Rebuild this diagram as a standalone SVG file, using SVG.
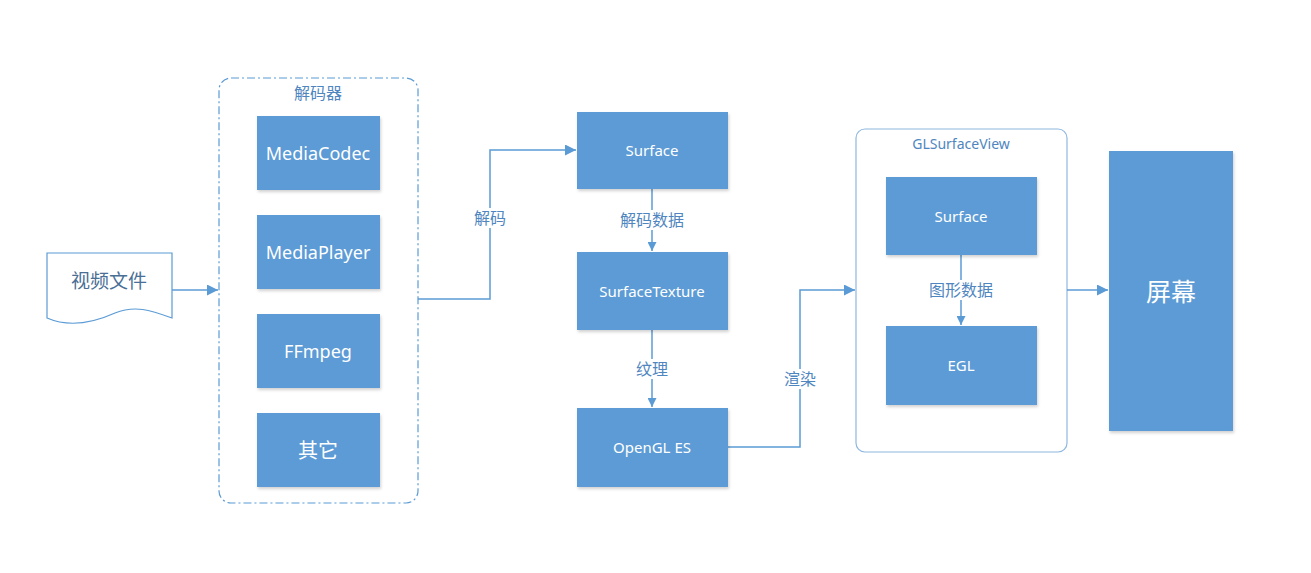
<svg xmlns="http://www.w3.org/2000/svg" width="1311" height="573" viewBox="0 0 1311 573">
<defs>
<style>
.box{fill:#5b9bd5;filter:url(#sh)}
.bt{fill:#fff;font-family:"Noto Sans","Noto Sans CJK SC",sans-serif;text-anchor:middle;dominant-baseline:central}
.lbl{fill:#4f86c0;font-family:"Noto Sans","Noto Sans CJK SC",sans-serif;font-size:16px;text-anchor:middle;dominant-baseline:central}
.ln{fill:none;stroke:#5b9bd5;stroke-width:1.5}
</style>
<filter id="sh" x="-10%" y="-10%" width="130%" height="130%">
<feDropShadow dx="1" dy="2" stdDeviation="1.5" flood-color="#000" flood-opacity="0.18"/>
</filter>
<marker id="ar" viewBox="0 0 10 10" refX="10" refY="5" markerWidth="9" markerHeight="9" markerUnits="userSpaceOnUse" orient="auto">
<path d="M0,0 L10,5 L0,10 z" fill="#5b9bd5"/>
</marker>
<marker id="ar2" viewBox="0 0 10 10" refX="10" refY="5" markerWidth="11" markerHeight="11" markerUnits="userSpaceOnUse" orient="auto">
<path d="M0,0 L10,5 L0,10 z" fill="#5b9bd5"/>
</marker>
</defs>
<rect width="1311" height="573" fill="#fff"/>

<g id="decoder">
<rect x="219" y="78" width="199" height="425" rx="12" fill="none" stroke="#5b9bd5" stroke-width="1.2" stroke-dasharray="8,3,2,3"/>
<text x="318" y="93" class="lbl">解码器</text>
</g>
<g id="glsurfaceview">
<rect x="856" y="129" width="211" height="323" rx="9" fill="#fff" stroke="#8fb8e0" stroke-width="1.2"/>
<text x="961" y="143" class="lbl" style="font-size:14px">GLSurfaceView</text>
</g>

<g id="connectors">
<path class="ln" d="M172,290 L218,290" marker-end="url(#ar2)"/>
<path class="ln" d="M418,299 L490,299 L490,150 L576,150" marker-end="url(#ar2)"/>
<path class="ln" d="M652,189 L652,251" marker-end="url(#ar)"/>
<path class="ln" d="M652,330 L652,407" marker-end="url(#ar)"/>
<path class="ln" d="M728,447 L800,447 L800,290 L855,290" marker-end="url(#ar2)"/>
<path class="ln" d="M961,255 L961,325" marker-end="url(#ar)"/>
<path class="ln" d="M1067,290 L1108,290" marker-end="url(#ar2)"/>
<rect x="470" y="208" width="40" height="20" fill="#fff"/>
<text x="490" y="218" class="lbl">解码</text>
<rect x="616" y="210" width="72" height="20" fill="#fff"/>
<text x="652" y="220" class="lbl">解码数据</text>
<rect x="632" y="359" width="40" height="20" fill="#fff"/>
<text x="652" y="369" class="lbl">纹理</text>
<rect x="780" y="369" width="40" height="20" fill="#fff"/>
<text x="800" y="379" class="lbl">渲染</text>
<rect x="925" y="280" width="72" height="20" fill="#fff"/>
<text x="961" y="290" class="lbl">图形数据</text>
</g>

<g id="video-file">
<path d="M47,253 L172,253 L172,318 C150,310 135,305 115,313 C95,322 70,328 47,318 Z" fill="#fff" stroke="#5b9bd5" stroke-width="1.2"/>
<text x="109" y="281" class="lbl" style="font-size:19px;fill:#4a6f96">视频文件</text>
</g>

<g id="mediacodec"><rect class="box" x="257" y="116" width="123" height="74"/><text class="bt" x="318" y="153" font-size="18">MediaCodec</text></g>
<g id="mediaplayer"><rect class="box" x="257" y="215" width="123" height="74"/><text class="bt" x="318" y="252" font-size="18">MediaPlayer</text></g>
<g id="ffmpeg"><rect class="box" x="257" y="314" width="123" height="74"/><text class="bt" x="318" y="351" font-size="18">FFmpeg</text></g>
<g id="other"><rect class="box" x="257" y="413" width="123" height="74"/><text class="bt" x="318" y="450" font-size="20">其它</text></g>

<g id="surface"><rect class="box" x="577" y="112" width="151" height="77"/><text class="bt" x="652" y="150" font-size="15">Surface</text></g>
<g id="surfacetexture"><rect class="box" x="577" y="252" width="151" height="78"/><text class="bt" x="652" y="291" font-size="15">SurfaceTexture</text></g>
<g id="opengles"><rect class="box" x="577" y="408" width="151" height="79"/><text class="bt" x="652" y="447" font-size="15">OpenGL ES</text></g>

<g id="gl-surface"><rect class="box" x="886" y="177" width="151" height="78"/><text class="bt" x="961" y="216" font-size="15">Surface</text></g>
<g id="egl"><rect class="box" x="886" y="326" width="151" height="79"/><text class="bt" x="961" y="365" font-size="15">EGL</text></g>

<g id="screen"><rect class="box" x="1109" y="151" width="124" height="280"/><text class="bt" x="1171" y="291" font-size="25">屏幕</text></g>
</svg>
